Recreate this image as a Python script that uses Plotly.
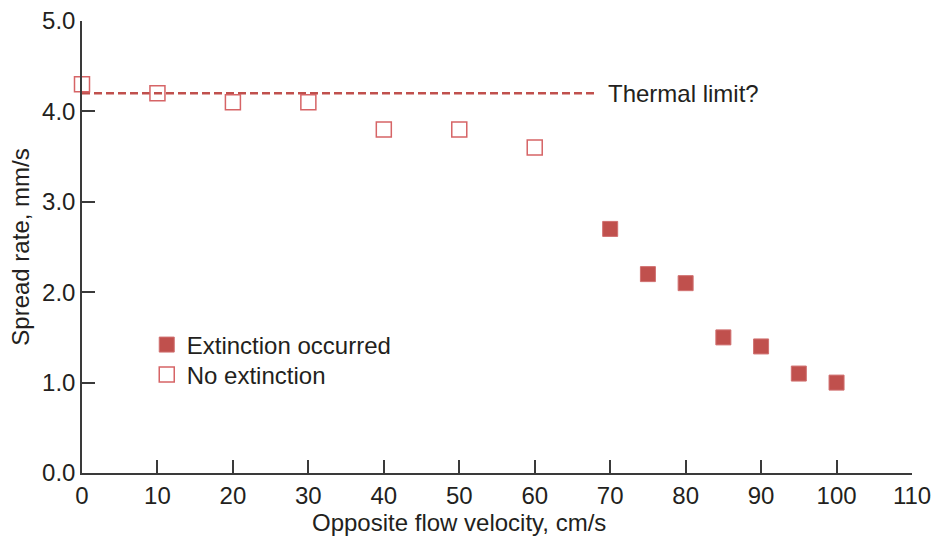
import plotly.graph_objects as go

# Data
no_ext_x = [0, 10, 20, 30, 40, 50, 60]
no_ext_y = [4.3, 4.2, 4.1, 4.1, 3.8, 3.8, 3.6]
ext_x = [70, 75, 80, 85, 90, 95, 100]
ext_y = [2.7, 2.2, 2.1, 1.5, 1.4, 1.1, 1.0]
limit_x = [0, 68]
limit_y = [4.2, 4.2]
x_ticks = [0, 10, 20, 30, 40, 50, 60, 70, 80, 90, 100, 110]
y_ticks = [0.0, 1.0, 2.0, 3.0, 4.0, 5.0]
y_tick_labels = ["0.0", "1.0", "2.0", "3.0", "4.0", "5.0"]

RED = "#c0504d"
OPEN = "#d66466"
TXT = "#231f20"
AX = "#3a3a3a"
FONT = "Liberation Sans, Arial, sans-serif"
FS = 24

fig = go.Figure()
fig.add_trace(go.Scatter(
    x=limit_x, y=limit_y, mode="lines",
    line=dict(color=RED, width=2.5, dash="8px,4px"),
    showlegend=False, hoverinfo="skip", cliponaxis=False))
fig.add_trace(go.Scatter(
    x=ext_x, y=ext_y, mode="markers", name="Extinction occurred",
    marker=dict(symbol="square", size=15, color=RED,
                line=dict(color="#d07070", width=1)),
    cliponaxis=False, legend="legend"))
fig.add_trace(go.Scatter(
    x=no_ext_x, y=no_ext_y, mode="markers", name="No extinction",
    marker=dict(symbol="square-open", size=15, color=OPEN,
                line=dict(color=OPEN, width=1.5)),
    cliponaxis=False, legend="legend2"))

fig.add_annotation(x=69.4, y=4.2, text="Thermal limit?", showarrow=False,
                   xanchor="left", yanchor="middle",
                   font=dict(size=FS, color=TXT, family=FONT))
fig.add_annotation(x=0.454, y=-0.109, xref="paper", yref="paper",
                   text="Opposite flow velocity, cm/s", showarrow=False,
                   xanchor="center", yanchor="middle",
                   font=dict(size=FS, color=TXT, family=FONT))

leg_common = dict(xanchor="left", yanchor="top", bgcolor="rgba(0,0,0,0)",
                  font=dict(size=FS, color=TXT), itemsizing="trace")

fig.update_layout(
    width=933, height=538,
    margin=dict(l=82, r=21, t=21, b=65),
    plot_bgcolor="white", paper_bgcolor="white",
    font=dict(family=FONT, size=FS, color=TXT),
    legend=dict(x=0.078, y=0.333, **leg_common),
    legend2=dict(x=0.078, y=0.267, **leg_common),
    xaxis=dict(range=[0, 110], tickvals=x_ticks, ticks="inside",
               ticklen=13, tickwidth=1.5, tickcolor=AX,
               showline=True, linecolor=AX, linewidth=1.5,
               showgrid=False, zeroline=False, automargin=False,
               tickfont=dict(size=FS, color=TXT)),
    yaxis=dict(range=[0, 5], tickvals=y_ticks, ticktext=y_tick_labels,
               ticks="inside", ticklen=13, tickwidth=1.5, tickcolor=AX,
               showline=True, linecolor=AX, linewidth=1.5,
               showgrid=False, zeroline=False, automargin=False,
               tickfont=dict(size=FS, color=TXT),
               title=dict(text="Spread rate, mm/s",
                          font=dict(size=FS, color=TXT), standoff=6)),
)

fig.write_html("out.html")
